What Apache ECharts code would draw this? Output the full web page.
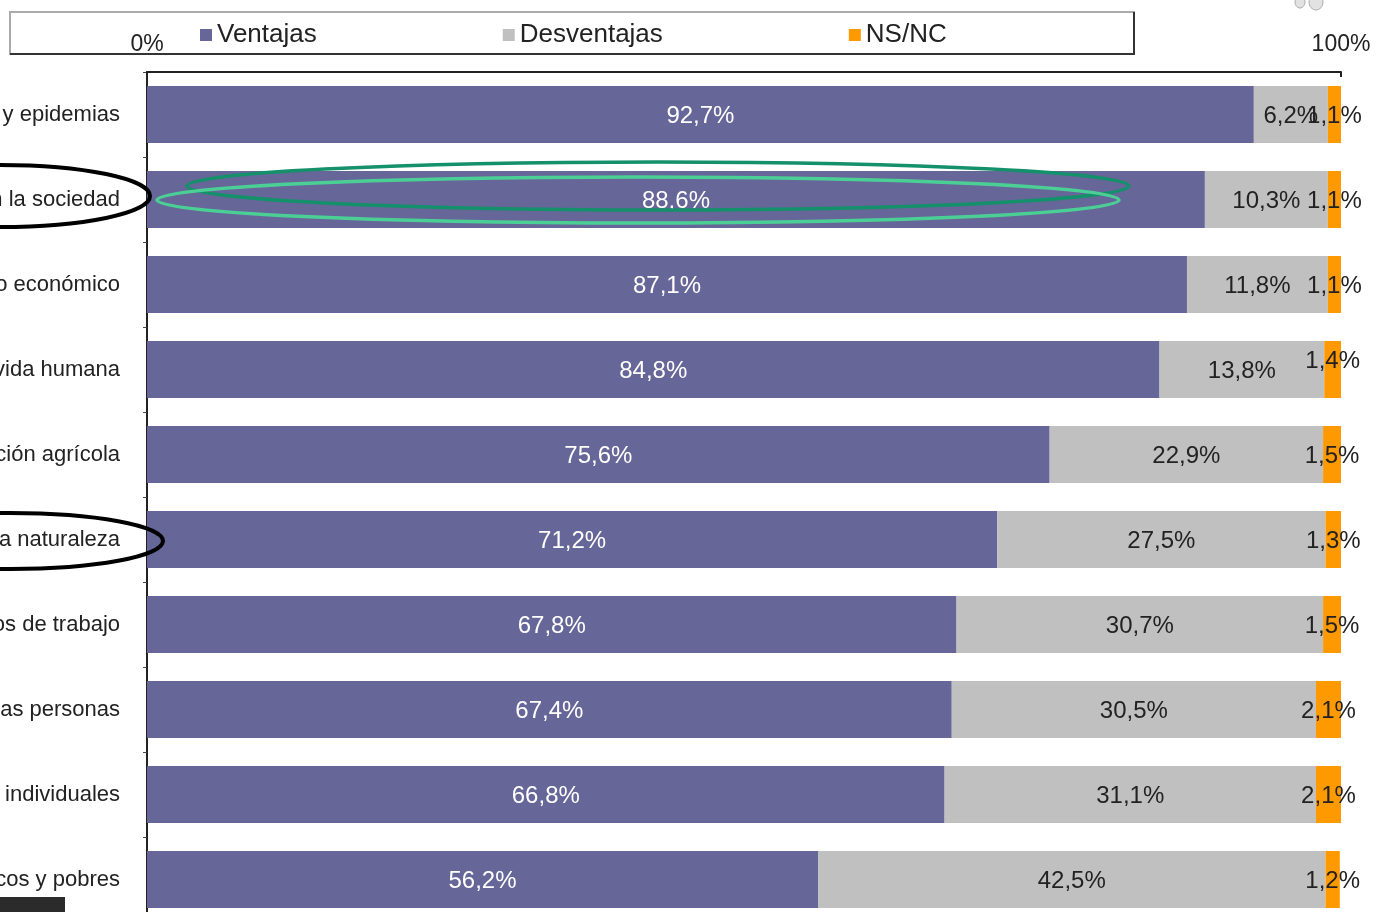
<!DOCTYPE html>
<html>
<head>
<meta charset="utf-8">
<script src="https://cdn.jsdelivr.net/npm/echarts@6/dist/echarts.min.js"></script>
<style>
  html, body { margin: 0; padding: 0; background: #fff; }
  #chart { width: 1381px; height: 912px; }
</style>
</head>
<body>
<div id="chart"></div>
<script>
// categories (left part is cut off in the original picture)
var categories = [
  'Curar enfermedades y epidemias',
  'Mejorar la calidad de vida en la sociedad',
  'Favorecer el desarrollo económico',
  'Alargar la vida humana',
  'Mejorar la producción agrícola',
  'Proteger la naturaleza',
  'Crear nuevos puestos de trabajo',
  'Comunicación entre las personas',
  'Mayores libertades individuales',
  'Diferencias entre ricos y pobres'
];
var ventajas    = [92.7, 88.6, 87.1, 84.8, 75.6, 71.2, 67.8, 67.4, 66.8, 56.2];
var desventajas = [6.2, 10.3, 11.8, 13.8, 22.9, 27.5, 30.7, 30.5, 31.1, 42.5];
var nsnc        = [1.1, 1.1, 1.1, 1.4, 1.5, 1.3, 1.5, 2.1, 2.1, 1.2];
var legendNames = ['Ventajas', 'Desventajas', 'NS/NC'];

var FONT = '"Liberation Sans", Arial, sans-serif';

function pct(p) {
  return p.value.toFixed(1).replace('.', ',') + '%';
}

var chart = echarts.init(document.getElementById('chart'));

var option = {
  animation: false,
  textStyle: { fontFamily: FONT },
  legend: {
    data: legendNames,
    left: 200,
    top: 22,
    padding: 0,
    itemGap: 186,
    itemWidth: 12,
    itemHeight: 12,
    icon: 'rect',
    textStyle: { fontSize: 26, color: '#222', fontFamily: FONT }
  },
  grid: {
    left: 147,
    right: 40,
    top: 72,
    height: 850,
    containLabel: false,
    outerBoundsMode: 'none'
  },
  xAxis: {
    type: 'value',
    position: 'top',
    min: 0,
    max: 100,
    interval: 100,
    axisLine: { show: true, lineStyle: { color: '#222', width: 2 } },
    axisTick: { show: true, inside: true, length: 5, lineStyle: { color: '#222', width: 2 } },
    splitLine: { show: false },
    axisLabel: {
      formatter: '{value}%',
      fontSize: 23,
      color: '#222',
      margin: 16,
      fontFamily: FONT
    }
  },
  yAxis: {
    type: 'category',
    inverse: true,
    data: categories,
    axisLine: { show: true, lineStyle: { color: '#222', width: 2 } },
    axisTick: { show: true, length: 4, lineStyle: { color: '#444' } },
    axisLabel: {
      fontSize: 22,
      color: '#222',
      margin: 27,
      fontFamily: FONT
    }
  },
  series: [{
    name: 'Ventajas',
    type: 'bar',
    stack: 'total',
    barWidth: 57,
    data: ventajas,
    itemStyle: { color: '#666699' },
    label: { show: true, position: 'inside', offset: [0, 2], color: '#fff', fontSize: 24, formatter: pct, fontFamily: FONT }
  }, {
    name: 'Desventajas',
    type: 'bar',
    stack: 'total',
    barWidth: 57,
    data: desventajas,
    itemStyle: { color: '#c0c0c0' },
    label: { show: true, position: 'inside', offset: [0, 2], color: '#222', fontSize: 24, formatter: pct, fontFamily: FONT }
  }, {
    name: 'NS/NC',
    type: 'bar',
    stack: 'total',
    barWidth: 57,
    data: nsnc.map(function (v, i) {
      return i === 3 ? { value: v, label: { offset: [0, -8] } } : v;
    }),
    itemStyle: { color: '#ff9900' },
    label: { show: true, position: 'inside', offset: [0, 2], color: '#222', fontSize: 24, formatter: pct, fontFamily: FONT }
  }],
  graphic: [
    // legend frame
    { type: 'rect', z: 0, shape: { x: 10, y: 12, width: 1124, height: 42 },
      style: { fill: 'none', stroke: '#aaa', lineWidth: 2 } },
    { type: 'polyline', z: 0, shape: { points: [[1134, 12], [1134, 54], [10, 54]] },
      style: { fill: 'none', stroke: '#333', lineWidth: 2 } },
    // hand drawn marks
    { type: 'ellipse', z: 100, shape: { cx: 0, cy: 196, rx: 150, ry: 31 },
      style: { fill: 'none', stroke: '#000', lineWidth: 4 } },
    { type: 'ellipse', z: 100, shape: { cx: 10, cy: 541, rx: 153, ry: 28 },
      style: { fill: 'none', stroke: '#000', lineWidth: 4 } },
    { type: 'ellipse', z: 100, shape: { cx: 658, cy: 186, rx: 471, ry: 24 },
      style: { fill: 'none', stroke: '#14906a', lineWidth: 3.5 } },
    { type: 'ellipse', z: 100, shape: { cx: 638, cy: 200, rx: 481, ry: 23 },
      style: { fill: 'none', stroke: '#4ccf95', lineWidth: 3.5 } },
    // corner bits
    { type: 'rect', z: 100, shape: { x: 0, y: 897, width: 65, height: 15 },
      style: { fill: '#2b2b2b' } },
    { type: 'ellipse', z: 100, shape: { cx: 1300, cy: 2, rx: 5, ry: 6 },
      style: { fill: '#e2e2e2', stroke: '#aaa', lineWidth: 1 } },
    { type: 'ellipse', z: 100, shape: { cx: 1316, cy: 2, rx: 7, ry: 8 },
      style: { fill: '#e2e2e2', stroke: '#aaa', lineWidth: 1 } }
  ]
};

chart.setOption(option);
</script>
</body>
</html>
